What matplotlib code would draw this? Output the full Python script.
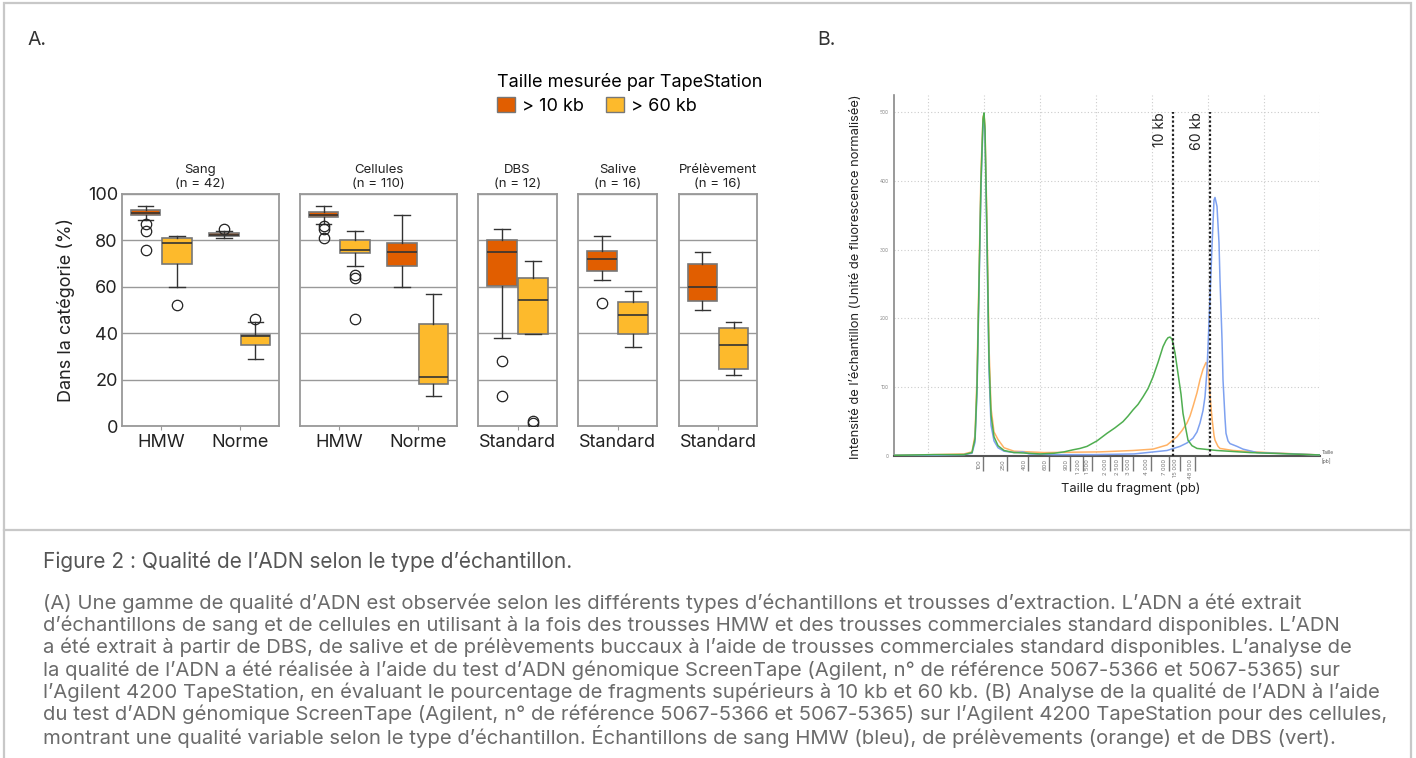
import matplotlib
matplotlib.use("Agg")
import matplotlib.pyplot as plt
from matplotlib.patches import Patch, Rectangle
from matplotlib.lines import Line2D

plt.rcParams['font.family'] = ['Inter', 'DejaVu Sans']

# ---- Panel A data (box statistics, in %) ----
panels = ['Sang', 'Cellules', 'DBS', 'Salive', 'Prélèvement']
panel_n = [42, 110, 12, 16, 16]
panel_kits = [['HMW', 'Norme'], ['HMW', 'Norme'], ['Standard'], ['Standard'], ['Standard']]
thresholds = ['> 10 kb', '> 60 kb']

box_panel = [0, 0, 0, 0, 1, 1, 1, 1, 2, 2, 3, 3, 4, 4]
box_kit = [0, 0, 1, 1, 0, 0, 1, 1, 0, 0, 0, 0, 0, 0]
box_thr = [0, 1, 0, 1, 0, 1, 0, 1, 0, 1, 0, 1, 0, 1]
box_q1 = [90.9, 70, 82, 35, 90, 74.4, 69, 18, 60.5, 39.7, 67, 39.7, 54, 24.4]
box_med = [92, 79, 82.5, 38.8, 91, 75.9, 75, 21, 75, 54.5, 72, 48, 60, 35]
box_q3 = [93, 81, 83, 39.2, 92.1, 80, 78.7, 44, 80, 64, 75.6, 53.4, 69.7, 42.4]
box_wlo = [89, 60, 81, 29, 87, 68.8, 60, 13, 38, 39.7, 63, 34, 50, 22]
box_whi = [95, 82, 84, 45, 95, 84, 91, 57, 85, 71, 82, 58, 75, 44.8]
box_fliers = [[87, 84, 76], [52], [85], [46], [86, 85, 81], [65, 64, 46], [], [],
              [28, 13], [2.3, 1.3], [53], [], [], []]

# ---- Panel B data (TapeStation trace, x = migration position) ----
size_ticks = ['100', '250', '400', '600', '900', '1 200', '1 500', '2 000', '2 500',
              '3 000', '4 000', '7 000', '15 000', '48 500']
size_tick_pos = [89, 113, 134, 155, 176, 189, 198, 216, 228, 239, 257, 275, 286, 301]
marker_lines = {'10 kb': 279, '60 kb': 316}

blue_x = [0, 40, 70, 78, 81, 83, 85, 87, 89, 90, 91, 93, 95, 97, 100, 104, 110, 120, 129,
          135, 160, 200, 240, 273, 286, 293, 299, 303, 306, 309, 311, 313, 314, 316, 318,
          320, 321, 323, 325, 326, 328, 329, 331, 332, 334, 336, 343, 349, 363, 426]
blue_y = [1, 1, 2, 4, 20, 90, 240, 390, 480, 492, 465, 300, 125, 45, 22, 12, 7, 5, 6,
          3, 2, 2, 3, 8, 14, 19, 26, 35, 48, 66, 86, 125, 159, 230, 305,
          372, 376, 363, 310, 256, 170, 111, 55, 33, 22, 18, 14, 10, 5, 1.5]
orange_x = [0, 40, 70, 78, 81, 83, 85, 87, 89, 90, 91, 93, 95, 97, 100, 104, 110, 120,
            135, 150, 206, 239, 259, 273, 283, 288, 293, 296, 299, 303, 306, 309, 312,
            313, 315, 316, 318, 320, 321, 324, 326, 339, 373, 426]
orange_y = [1, 2, 3, 6, 30, 115, 265, 415, 493, 497, 480, 335, 160, 70, 35, 24, 12, 7,
            6, 5, 6, 8, 10, 16, 28, 37, 48, 58, 72, 92, 111, 126, 136,
            134, 111, 88, 55, 30, 23, 14, 11, 8, 5, 1.5]
green_x = [0, 40, 70, 78, 81, 83, 85, 87, 89, 90, 91, 93, 95, 97, 100, 104, 110, 120,
           135, 146, 160, 170, 179, 186, 193, 203, 213, 221, 229, 234, 239, 244, 249, 254,
           259, 264, 269, 272, 274, 276, 278, 279, 281, 284, 287, 289, 292, 294, 298, 303,
           323, 356, 426]
green_y = [1, 2, 2, 5, 25, 100, 250, 400, 490, 499, 475, 320, 140, 60, 28, 15, 8, 5,
           4, 3, 4, 6, 9, 11, 14, 22, 33, 41, 50, 58, 67, 75, 86, 98,
           115, 136, 159, 168, 172, 173, 170, 164, 150, 120, 90, 62, 38, 23, 15, 11,
           8, 5, 1.5]

caption_title = "Figure 2 : Qualité de l’ADN selon le type d’échantillon."
caption_lines = [
    "(A) Une gamme de qualité d’ADN est observée selon les différents types d’échantillons et trousses d’extraction. L’ADN a été extrait",
    "d’échantillons de sang et de cellules en utilisant à la fois des trousses HMW et des trousses commerciales standard disponibles. L’ADN",
    "a été extrait à partir de DBS, de salive et de prélèvements buccaux à l’aide de trousses commerciales standard disponibles. L’analyse de",
    "la qualité de l’ADN a été réalisée à l’aide du test d’ADN génomique ScreenTape (Agilent, n° de référence 5067-5366 et 5067-5365) sur",
    "l’Agilent 4200 TapeStation, en évaluant le pourcentage de fragments supérieurs à 10 kb et 60 kb. (B) Analyse de la qualité de l’ADN à l’aide",
    "du test d’ADN génomique ScreenTape (Agilent, n° de référence 5067-5366 et 5067-5365) sur l’Agilent 4200 TapeStation pour des cellules,",
    "montrant une qualité variable selon le type d’échantillon. Échantillons de sang HMW (bleu), de prélèvements (orange) et de DBS (vert).",
]

ORANGE = '#E15E00'
YELLOW = '#FDBA2C'
thr_colors = [ORANGE, YELLOW]

W, H = 1416, 758
fig = plt.figure(figsize=(W / 100, H / 100), dpi=100)


def rect(x0, y0, x1, y1):
    return [x0 / W, 1 - y1 / H, (x1 - x0) / W, (y1 - y0) / H]


# outer frame and divider
fig.add_artist(Rectangle((4 / W, -0.05), 1407 / W, 1.05 - 3 / H, transform=fig.transFigure,
                         fill=False, ec='#c8c8c8', lw=1.6))
fig.add_artist(Line2D([4 / W, 1411 / W], [1 - 530 / H] * 2, transform=fig.transFigure,
                      color='#c8c8c8', lw=1.6))

fig.text(27 / W, 1 - 40 / H, 'A.', fontsize=14, color='#333', va='center')
fig.text(817 / W, 1 - 40 / H, 'B.', fontsize=14, color='#333', va='center')

# ---- Panel A ----
ax_x = [(122, 279), (300, 457), (478, 557), (578, 657), (679, 757)]
for p, name in enumerate(panels):
    ax = fig.add_axes(rect(ax_x[p][0], 194, ax_x[p][1], 426))
    for i in range(len(box_panel)):
        if box_panel[i] != p:
            continue
        st = dict(med=box_med[i], q1=box_q1[i], q3=box_q3[i], whislo=box_wlo[i],
                  whishi=box_whi[i], fliers=box_fliers[i])
        pos = box_kit[i] + (-0.2 if box_thr[i] == 0 else 0.2)
        ax.bxp([st], positions=[pos], widths=0.38, capwidths=0.2, patch_artist=True,
               boxprops=dict(facecolor=thr_colors[box_thr[i]], edgecolor='#777777', lw=1.2),
               medianprops=dict(color='#333333', lw=1.2),
               whiskerprops=dict(color='#333333', lw=1),
               capprops=dict(color='#333333', lw=1),
               flierprops=dict(marker='o', mfc='none', mec='#222222', ms=7.5, mew=0.9),
               zorder=3)
    nk = len(panel_kits[p])
    ax.set_xlim(-0.5, nk - 0.5)
    ax.set_ylim(0, 100)
    ax.set_xticks(range(nk))
    ax.set_xticklabels(panel_kits[p], fontsize=13, color='#222')
    ax.set_yticks([0, 20, 40, 60, 80, 100])
    ax.yaxis.grid(True, color='#999999', lw=1)
    ax.set_axisbelow(True)
    ax.tick_params(axis='x', length=3, color='#999999', pad=3)
    ax.tick_params(axis='y', length=0, pad=3, labelsize=13, labelcolor='#222')
    if p > 0:
        ax.set_yticklabels([])
    for s in ax.spines.values():
        s.set_color('#999999')
        s.set_linewidth(1.3)
    ax.set_title(f'{name}\n(n = {panel_n[p]})', fontsize=9.5, color='#222', pad=5,
                 linespacing=1.25)

fig.text(66 / W, 1 - 310 / H, 'Dans la catégorie (%)', rotation=90, fontsize=13,
         color='#222', ha='center', va='center')

handles = [Patch(facecolor=thr_colors[k], edgecolor='#777777', label=thresholds[k])
           for k in range(2)]
fig.legend(handles=handles, title='Taille mesurée par TapeStation', loc='upper left',
           bbox_to_anchor=(497 / W, 1 - 73 / H), ncol=2, frameon=False, fontsize=13,
           title_fontsize=13, alignment='left', handlelength=1.0, handleheight=0.85,
           handletextpad=0.4, columnspacing=1.2, borderpad=0, borderaxespad=0,
           labelspacing=0.35)

# ---- Panel B ----
bx = fig.add_axes(rect(894, 95, 1320, 456))
bx.plot(orange_x, orange_y, color='#FFB265', lw=1.1, zorder=3)
bx.plot(blue_x, blue_y, color='#7EA1F0', lw=1.1, zorder=4)
bx.plot(green_x, green_y, color='#4FAE50', lw=1.1, zorder=5)
bx.set_xlim(0, 426)
bx.set_ylim(0, 525)

bx.set_yticks([0, 100, 200, 300, 400, 500])
bx.tick_params(axis='y', length=0, pad=4, labelsize=3.5, labelcolor='#888')
bx.set_xticks(size_tick_pos)
bx.set_xticklabels([])
bx.tick_params(axis='x', length=11, width=1, color='#777', direction='out')
bx.set_xticks([34, 90, 146, 202, 258, 314, 370, 426], minor=True)
bx.tick_params(axis='x', which='minor', length=0)
bx.grid(False)
bx.grid(True, which='minor', axis='x', color='#cccccc', lw=0.8, linestyle=(0, (1, 2)))
bx.grid(True, which='major', axis='y', color='#cccccc', lw=0.8, linestyle=(0, (1, 2)))
bx.set_axisbelow(True)
for k, lab in enumerate(size_ticks):
    bx.annotate(lab, xy=(size_tick_pos[k], 0), xytext=(-1.2, -2), textcoords='offset points',
                rotation=90, ha='right', va='top', fontsize=4.2, color='#777')
for s in ['top', 'right']:
    bx.spines[s].set_visible(False)
bx.spines['left'].set_color('#888888')
bx.spines['left'].set_linewidth(1.2)
bx.spines['bottom'].set_color('#555555')
bx.spines['bottom'].set_linewidth(1.5)

for lab, xpos in marker_lines.items():
    bx.vlines(xpos, 0, 500, colors='#222222', linestyles=(0, (1, 1)), lw=1.6, zorder=6)
    bx.annotate(lab, xy=(xpos, 500), xytext=(-4, 0), textcoords='offset points',
                rotation=90, ha='right', va='top', fontsize=10, color='#222')

fig.text(1322 / W, 1 - 452 / H, 'Taille', fontsize=3.5, color='#555', va='center')
fig.text(1322 / W, 1 - 461 / H, '[pb]', fontsize=3.5, color='#555', va='center')

fig.text(856 / W, 1 - 277 / H, 'Intensité de l’échantillon (Unité de fluorescence normalisée)',
         rotation=90, fontsize=9.3, color='#222', ha='center', va='center')
fig.text(1131 / W, 1 - 489 / H, 'Taille du fragment (pb)', fontsize=9.3, color='#222',
         ha='center', va='center')

# ---- caption ----
fig.text(43 / W, 1 - 562 / H, caption_title, fontsize=15, color='#555', va='center')
for k, line in enumerate(caption_lines):
    fig.text(43 / W, 1 - (603 + 22.3 * k) / H, line, fontsize=14.6, color='#6b6b6b',
             va='center')

fig.savefig('out.png', dpi=100)
